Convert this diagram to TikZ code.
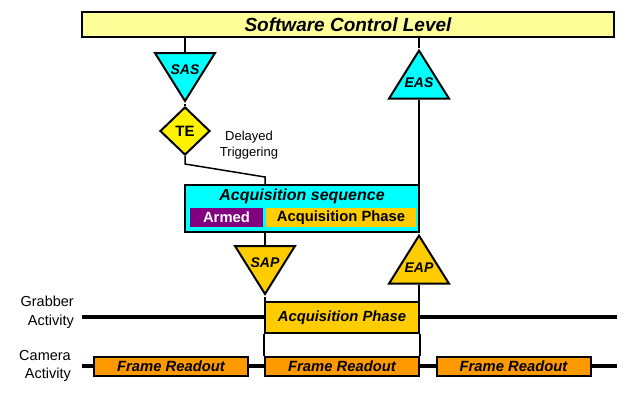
\documentclass[tikz,border=0pt]{standalone}
\usepackage{fontspec}
\setmainfont{Liberation Sans}
\usetikzlibrary{shapes.geometric,positioning,calc}
\definecolor{barfill}{HTML}{FFFF99}
\definecolor{seqcyan}{HTML}{00FFFF}
\definecolor{gold}{HTML}{FFCC00}
\definecolor{readout}{HTML}{FF9900}
\definecolor{armedpurple}{HTML}{800080}

\begin{document}
\begin{tikzpicture}[x=1pt,y=-1pt,
  box/.style={draw,line width=2pt,inner sep=0pt,font=\bfseries\itshape},
  tri/.style={draw,line width=2pt,isosceles triangle,isosceles triangle stretches,
    inner sep=0pt,minimum width=60pt,minimum height=48pt,fill=#1},
  tritext/.style={inner sep=0pt,font=\bfseries\itshape\fontsize{14}{14}\selectfont},
  wire/.style={line width=1.5pt},
  track/.style={line width=4.5pt},
  actlabel/.style={align=right,anchor=east,inner sep=0pt,font=\fontsize{14.5}{18.5}\selectfont}]
\useasboundingbox (0,0) rectangle (638,400);
\draw[track] (82,317) coordinate (g0) -- (617,317) coordinate (g1);
\draw[track] (82,366) coordinate (c0) -- (617,366) coordinate (c1);
\node[box,fill=barfill,minimum width=532pt,minimum height=25pt,font=\bfseries\itshape\fontsize{19}{19}\selectfont] (scl) at (348,24.5) {Software Control Level};
\node[tri=seqcyan,shape border rotate=-90,anchor=lower side] (sas) at (185,52) {};
\node[tritext] (sastext) at ($(sas.apex)!2/3!(sas.lower side)$) {SAS};
\node[tri=seqcyan,shape border rotate=90,anchor=apex] (eas) at (419,48) {};
\node[tritext] (eastext) at ($(eas.apex)!2/3!(eas.lower side)$) {EAS};
\node[draw,line width=2pt,diamond,fill=yellow,inner sep=0pt,minimum width=50pt,minimum height=48pt,font=\bfseries\fontsize{15}{15}\selectfont] (te) at (185,131) {TE};
\node[align=center,inner sep=0pt,font=\fontsize{13}{15.5}\selectfont] (delay) at (249,145) {Delayed\\Triggering};
\node[box,fill=seqcyan,minimum width=234pt,minimum height=47pt] (acqseq) at (302,208.5) {};
\node[inner sep=0pt,font=\bfseries\itshape\fontsize{16}{16}\selectfont] (acqtitle) at (302,196) {Acquisition sequence};
\node[inner sep=0pt,fill=armedpurple,text=white,minimum width=73pt,minimum height=19pt,font=\bfseries\fontsize{14.8}{14.8}\selectfont] (armed) at (226.5,217.5) {Armed};
\node[inner sep=0pt,fill=gold,minimum width=150pt,minimum height=19pt,font=\bfseries\fontsize{14.8}{14.8}\selectfont] (acqphase) at (341,217.5) {Acquisition Phase};
\node[tri=gold,shape border rotate=-90,anchor=lower side] (sap) at (265,245) {};
\node[tritext] (saptext) at ($(sap.apex)!2/3!(sap.lower side)$) {SAP};
\node[tri=gold,shape border rotate=90,anchor=apex] (eap) at (419,233) {};
\node[tritext] (eaptext) at ($(eap.apex)!2/3!(eap.lower side)$) {EAP};
\node[box,fill=gold,minimum width=154pt,minimum height=31pt,font=\bfseries\itshape\fontsize{14.8}{14.8}\selectfont] (grabphase) at (342,317.5) {Acquisition Phase};
\node[box,fill=readout,minimum width=154pt,minimum height=19pt,font=\bfseries\itshape\fontsize{14.8}{14.8}\selectfont] (fr1) at (171,366.5) {Frame Readout};
\node[box,fill=readout,minimum width=154pt,minimum height=19pt,font=\bfseries\itshape\fontsize{14.8}{14.8}\selectfont] (fr2) at (342,366.5) {Frame Readout};
\node[box,fill=readout,minimum width=154pt,minimum height=19pt,font=\bfseries\itshape\fontsize{14.8}{14.8}\selectfont] (fr3) at (513.5,366.5) {Frame Readout};
\node[actlabel] (grablab) at (74,312) {Grabber\\Activity};
\node[actlabel] (camlab) at (71,366) {Camera\\Activity};
\coordinate (k1) at (185,164);
\coordinate (k2) at (265,177);
\draw[wire] (sas.lower side |- scl.south) -- (sas.lower side);
\draw[wire] (sas.apex) -- (te.north);
\draw[wire] (te.south) -- (k1) -- (k2) -- (k2 |- acqseq.north);
\draw[wire] (eas.apex |- scl.south) -- (eas.apex);
\draw[wire] (eas.lower side) -- (eas.lower side |- acqseq.north);
\draw[wire] (sap.lower side |- acqseq.south) -- (sap.lower side);
\draw[wire] (sap.apex) -- (sap.apex |- grabphase.north);
\draw[wire] (grabphase.south west) -- (fr2.north west);
\draw[wire] (eap.lower side) -- (eap.lower side |- grabphase.north);
\draw[wire] (grabphase.south east) -- (fr2.north east);
\end{tikzpicture}
\end{document}
